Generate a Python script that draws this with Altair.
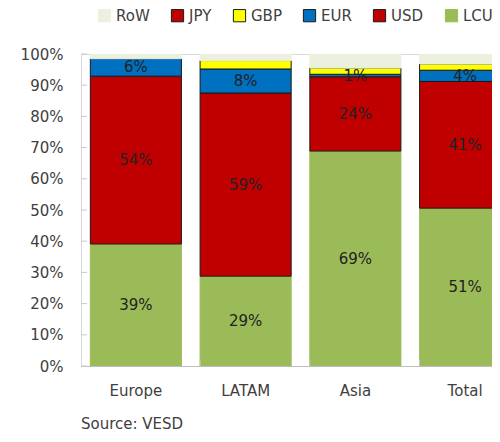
import altair as alt
import pandas as pd

categories = ["Europe", "LATAM", "Asia", "Total"]
stack_order = ["LCU", "USD", "EUR", "GBP", "JPY", "RoW"]   # bottom -> top
legend_order = ["RoW", "JPY", "GBP", "EUR", "USD", "LCU"]
fill_colors = ["#EBF1DE", "#C00000", "#FFFF00", "#0070C0", "#C00000", "#9BBB59"]
edge_colors = ["#EBF1DE", "#1a1a1a", "#1a1a1a", "#1a1a1a", "#1a1a1a", "#9BBB59"]

lcu = [0.391, 0.288, 0.689, 0.506]
usd = [0.538, 0.587, 0.238, 0.406]
eur = [0.056, 0.077, 0.008, 0.036]
gbp = [0.000, 0.027, 0.020, 0.020]
jpy = [0.000, 0.000, 0.000, 0.000]
row = [0.015, 0.021, 0.045, 0.032]
labelled = ["LCU", "USD", "EUR"]
yticks = [0, 0.1, 0.2, 0.3, 0.4, 0.5, 0.6, 0.7, 0.8, 0.9, 1.0]
source_text = "Source: VESD"

series_vals = {"LCU": lcu, "USD": usd, "EUR": eur, "GBP": gbp, "JPY": jpy, "RoW": row}
records = []
for si, s in enumerate(stack_order):
    for ci, c in enumerate(categories):
        records.append({"cat": c, "ser": s, "ord": si, "val": series_vals[s][ci]})
df = pd.DataFrame(records)

FONT = "DejaVu Sans"
TXT = "#404040"

xscale = alt.Scale(domain=categories, range=[0, 439], paddingInner=0.17, paddingOuter=0.085)
yscale = alt.Scale(domain=[0, 1], nice=False)

xaxis = alt.Axis(title=None, labelAngle=0, ticks=False, domain=True,
                 domainColor="#bfbfbf", labelFont=FONT, labelFontSize=15,
                 labelColor=TXT, labelPadding=17)
yaxis = alt.Axis(title=None, format=".0%", values=yticks, tickCount=11, grid=False, ticks=False,
                 domain=False, labelFont=FONT, labelFontSize=15, labelColor=TXT,
                 labelPadding=18, labelOverlap=False, labelFlush=False)

base = alt.Chart(df).transform_stack(
    stack="val", groupby=["cat"], sort=[alt.SortField("ord", order="ascending")], as_=["y0", "y1"]
).transform_calculate(mid="(datum.y0 + datum.y1) / 2")

bars = base.transform_filter("datum.val > 0").mark_bar(strokeWidth=1, clip=True).encode(
    x=alt.X("cat:N", scale=xscale, sort=categories, axis=xaxis),
    y=alt.Y("y0:Q", scale=yscale, axis=yaxis),
    y2="y1:Q",
    fill=alt.Fill("ser:N", scale=alt.Scale(domain=legend_order, range=fill_colors),
                  legend=alt.Legend(title=None)),
    stroke=alt.Stroke("ser:N", scale=alt.Scale(domain=legend_order, range=edge_colors),
                      legend=alt.Legend(title=None)),
    order=alt.Order("ord:Q"),
)

labels = base.transform_filter(
    alt.FieldOneOfPredicate(field="ser", oneOf=labelled)
).mark_text(font=FONT, fontSize=15, color="#222222").encode(
    x=alt.X("cat:N", scale=xscale, sort=categories, axis=xaxis),
    y=alt.Y("mid:Q", scale=yscale, axis=yaxis),
    text=alt.Text("val:Q", format=".0%"),
)

ytick_layer = alt.Chart(pd.DataFrame({"v": yticks})).mark_rule(color="#c8c8c8").encode(
    y=alt.Y("v:Q", scale=yscale, axis=yaxis), x=alt.value(0), x2=alt.value(6)
)

xtick_layer = alt.Chart(pd.DataFrame({"cat": categories[1:]})).mark_rule(color="#c8c8c8").encode(
    x=alt.X("cat:N", scale=xscale, sort=categories, bandPosition=0, axis=xaxis),
    y=alt.value(306), y2=alt.value(312)
)

chart = alt.layer(bars, labels, ytick_layer, xtick_layer).properties(
    width=411, height=312,
    autosize=alt.AutoSizeParams(type="none"),
    padding={"left": 73, "top": 46, "right": 0, "bottom": 68},
    title=alt.TitleParams(source_text, orient="bottom", anchor="start", frame="group",
                          font=FONT, fontSize=15, fontWeight="normal", color=TXT, offset=19),
).configure_view(
    stroke="#d9d9d9"
).configure_legend(
    orient="none", legendX=16, legendY=-46, direction="horizontal",
    symbolType="square", symbolSize=150, symbolStrokeWidth=1,
    labelFont=FONT, labelFontSize=15, labelColor=TXT, labelOffset=4,
    columnPadding=19, padding=0,
)

chart.save("out.html", embed_options={"renderer": "svg", "actions": False})
